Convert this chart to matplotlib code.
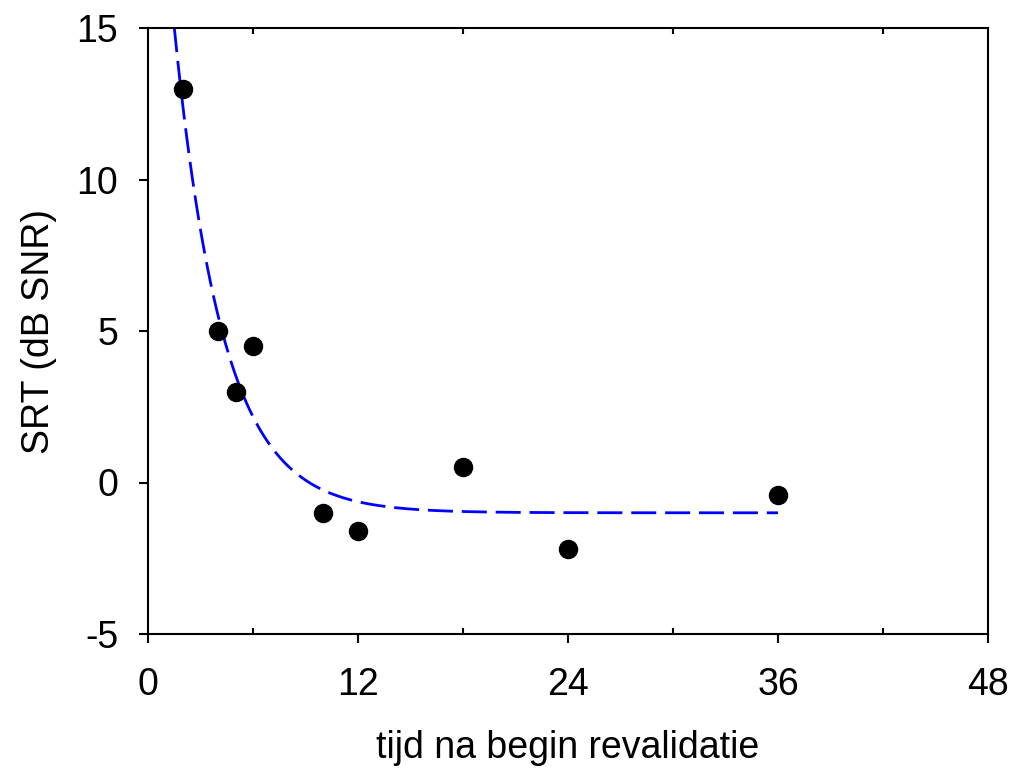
import numpy as np
import matplotlib.pyplot as plt
from matplotlib.ticker import MultipleLocator

# measured points (months after start of rehabilitation, SRT in dB SNR)
months = [2, 4, 5, 6, 10, 12, 18, 24, 36]
srt = [13.0, 5.0, 3.0, 4.5, -1.0, -1.6, 0.5, -2.2, -0.4]

# exponential fit: y = amp * exp(-rate * t) + floor
fit_amp = 27.5
fit_rate = 0.36
fit_floor = -1.0
fit_start, fit_end = 1.5, 36

x_ticks = [0, 12, 24, 36, 48]
y_ticks = [-5, 0, 5, 10, 15]


def main():
    plt.rcParams['font.family'] = ['Liberation Sans', 'DejaVu Sans']
    fig = plt.figure(figsize=(10.11, 7.68), dpi=100)
    ax = fig.add_axes([148 / 1011, 1 - 634 / 768, 840 / 1011, 606 / 768])

    t = np.linspace(fit_start, fit_end, 400)
    ax.plot(t, fit_amp * np.exp(-fit_rate * t) + fit_floor, color='#0000ff',
            lw=2.0, dashes=(9, 3.2))
    ax.plot(months, srt, 'o', color='black', markersize=13, zorder=3)

    ax.set_xlim(0, 48)
    ax.set_ylim(-5, 15)
    ax.set_xticks(x_ticks)
    ax.set_yticks(y_ticks)
    ax.set_yticklabels([str(v) for v in y_ticks])
    ax.xaxis.set_minor_locator(MultipleLocator(6))

    for s in ax.spines.values():
        s.set_linewidth(1.5)

    ax.tick_params(axis='both', which='major', direction='out', length=6.5,
                   width=1.5, labelsize=27)
    ax.tick_params(axis='x', which='major', pad=17)
    ax.tick_params(axis='y', which='major', pad=15)
    ax.tick_params(axis='x', which='minor', direction='in', length=4,
                   width=1.5, top=True, bottom=True)

    ax.set_xlabel('tijd na begin revalidatie', fontsize=27, labelpad=20)
    ax.set_ylabel('SRT (dB SNR)', fontsize=27, labelpad=14)

    fig.savefig('out.png', dpi=100)


if __name__ == "__main__":
    main()
